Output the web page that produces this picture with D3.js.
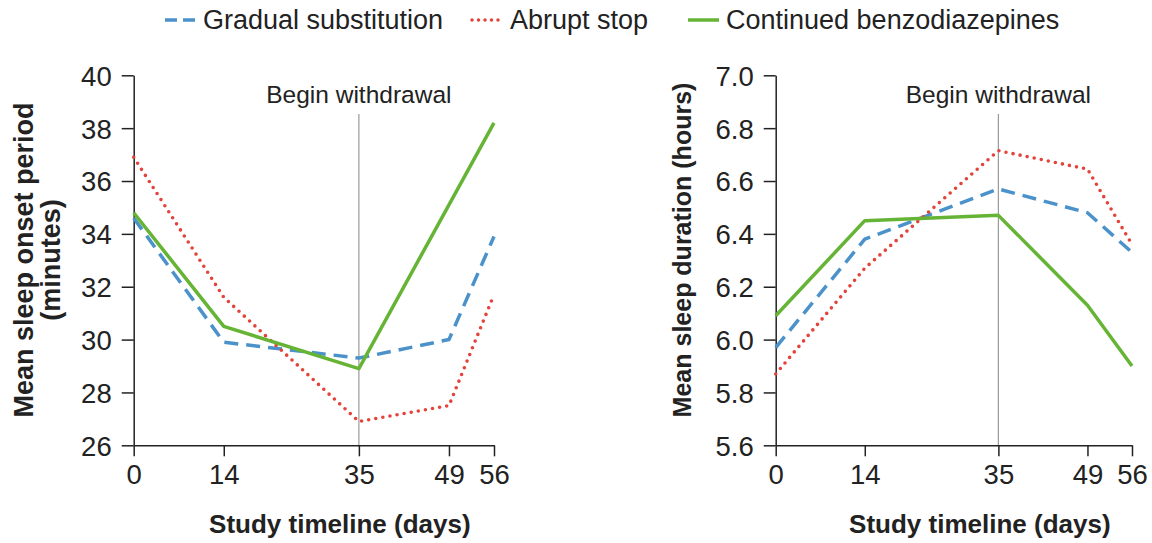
<!DOCTYPE html>
<html>
<head>
<meta charset="utf-8">
<script src="https://cdn.jsdelivr.net/npm/d3@7"></script>
<style>
  body { margin: 0; background: #fff; }
  svg { font-family: "Liberation Sans", Arial, sans-serif; }
  .domain, .tick line { stroke: #222; stroke-width: 1.5; }
</style>
</head>
<body>
<svg id="chart" width="1152" height="543"></svg>
<script>
var days = [0, 14, 35, 49, 56];
var seriesNames = ["Gradual substitution", "Abrupt stop", "Continued benzodiazepines"];

// sleep onset period (minutes)
var onsetGradual = [34.6, 29.9, 29.3, 30.0, 33.9];
var onsetAbrupt = [36.9, 31.6, 26.9, 27.5, 31.7];
var onsetContinued = [34.8, 30.5, 28.9, 35.1, 38.2];

// sleep duration (hours)
var durGradual = [5.97, 6.38, 6.57, 6.48, 6.33];
var durAbrupt = [5.87, 6.27, 6.715, 6.645, 6.36];
var durContinued = [6.09, 6.45, 6.47, 6.13, 5.90];

var onsetTicks = [26, 28, 30, 32, 34, 36, 38, 40];
var durTicks = [5.6, 5.8, 6.0, 6.2, 6.4, 6.6, 6.8, 7.0];

var colors = ["#4b92cb", "#e3433b", "#66b435"];
var dashes = ["14 8", "0 7.2", null];

var svg = d3.select("#chart");

function drawPanel(opt) {
    var x = d3.scaleLinear().domain([0, 56]).range([opt.x0, opt.x1]);
    var y = d3.scaleLinear().domain(opt.domain).range([445.3, 75.3]);
    var g = svg.append("g");

    // withdrawal marker
    g.append("line")
        .attr("x1", x(35)).attr("x2", x(35))
        .attr("y1", 114).attr("y2", y(opt.domain[0]))
        .attr("stroke", "#9a9a9a").attr("stroke-width", 1.2);
    g.append("text")
        .attr("x", x(35)).attr("y", 103)
        .attr("text-anchor", "middle")
        .attr("font-size", 24.5).attr("fill", "#222")
        .text("Begin withdrawal");

    var xAxis = g.append("g")
        .attr("transform", "translate(0," + y(opt.domain[0]) + ")")
        .call(d3.axisBottom(x).tickValues(days).tickSize(11).tickSizeOuter(0).tickPadding(8));
    var yAxis = g.append("g")
        .attr("transform", "translate(" + x(0) + ",0)")
        .call(d3.axisLeft(y).tickValues(opt.ticks).tickSize(12).tickSizeOuter(0).tickPadding(10).tickFormat(opt.fmt));
    yAxis.selectAll(".tick text").attr("dy", "0.36em");
    [xAxis, yAxis].forEach(function (a) {
        a.attr("font-family", null).attr("font-size", null);
        a.selectAll(".tick text").attr("font-size", 27.5).attr("fill", "#222");
    });

    var line = d3.line()
        .x(function (d, i) { return x(days[i]); })
        .y(function (d) { return y(d); });

    opt.series.forEach(function (s, k) {
        g.append("path")
            .datum(s)
            .attr("d", line)
            .attr("fill", "none")
            .attr("stroke", colors[k])
            .attr("stroke-width", k == 1 ? 3.6 : 3.5)
            .attr("stroke-linecap", k == 1 ? "round" : "butt")
            .attr("stroke-linejoin", "round")
            .attr("stroke-dasharray", dashes[k]);
    });

    g.append("text")
        .attr("x", (opt.x0 + opt.x1) / 2 + 26).attr("y", 533)
        .attr("text-anchor", "middle")
        .attr("font-size", 26).attr("font-weight", "bold").attr("fill", "#222")
        .text("Study timeline (days)");

    opt.labels.forEach(function (t, i) {
        g.append("text")
            .attr("transform", "translate(" + opt.labelX[i] + "," + opt.labelY + ") rotate(-90)")
            .attr("text-anchor", "middle")
            .attr("font-size", opt.labelSize).attr("font-weight", "bold").attr("fill", "#222")
            .text(t);
    });
}

drawPanel({
    x0: 133.7, x1: 494, domain: [26, 40], ticks: onsetTicks, fmt: d3.format("d"),
    series: [onsetGradual, onsetAbrupt, onsetContinued],
    labels: ["Mean sleep onset period", "(minutes)"], labelX: [33, 60], labelY: 260, labelSize: 27
});
drawPanel({
    x0: 775.7, x1: 1132, domain: [5.6, 7.0], ticks: durTicks, fmt: d3.format(".1f"),
    series: [durGradual, durAbrupt, durContinued],
    labels: ["Mean sleep duration (hours)"], labelX: [691], labelY: 250, labelSize: 25
});

// legend
var legendX = [165, 472, 688];
var legend = svg.append("g");
seriesNames.forEach(function (name, k) {
    legend.append("line")
        .attr("x1", legendX[k]).attr("x2", legendX[k] + 31)
        .attr("y1", 20).attr("y2", 20)
        .attr("stroke", colors[k])
        .attr("stroke-width", 3.5)
        .attr("stroke-linecap", k == 1 ? "round" : "butt")
        .attr("stroke-dasharray", k == 0 ? "12 6" : (k == 1 ? "0 6.5" : null));
    legend.append("text")
        .attr("x", legendX[k] + 38).attr("y", 29)
        .attr("font-size", 27).attr("fill", "#222")
        .text(name);
});
</script>
</body>
</html>
